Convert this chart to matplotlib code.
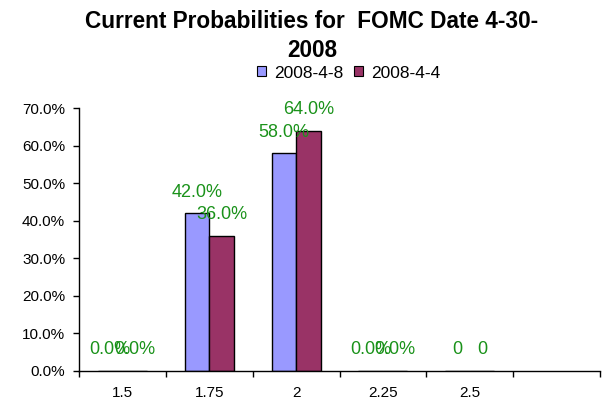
import matplotlib
matplotlib.use("Agg")
import matplotlib.pyplot as plt
import numpy as np
from matplotlib.patches import Patch

plt.rcParams['font.family'] = ['Liberation Sans', 'DejaVu Sans']

categories = ['1.5', '1.75', '2', '2.25', '2.5', '']
series_names = ['2008-4-8', '2008-4-4']
s1_values = [0.0, 42.0, 58.0, 0.0, 0.0]
s2_values = [0.0, 36.0, 64.0, 0.0, 0.0]
s1_labels = ['0.0%', '42.0%', '58.0%', '0.0%', '0']
s2_labels = ['0.0%', '36.0%', '64.0%', '0.0%', '0']
yticks = [0, 10, 20, 30, 40, 50, 60, 70]
title = 'Current Probabilities for  FOMC Date 4-30-\n2008'

W, H = 605, 403
fig = plt.figure(figsize=(W / 100, H / 100), dpi=100)
left, right, bottom, top = 79, 600, 370.7, 108.3
ax = fig.add_axes([left / W, (H - bottom) / H, (right - left) / W, (bottom - top) / H])

colors = ['#9999FF', '#993366']
bw = 0.282
x = np.arange(len(s1_values))
b1 = ax.bar(x - bw / 2, s1_values, bw, color=colors[0], edgecolor='black', linewidth=1.0, zorder=3)
b2 = ax.bar(x + bw / 2, s2_values, bw, color=colors[1], edgecolor='black', linewidth=1.0, zorder=3)

green = '#1a921a'
for bars, labs in ((b1, s1_labels), (b2, s2_labels)):
    for rect, lab in zip(bars, labs):
        ax.annotate(lab, (rect.get_x() + rect.get_width() / 2, rect.get_height()),
                    xytext=(0, 15), textcoords='offset points', ha='center', va='center',
                    color=green, fontsize=13, zorder=5)

ax.set_xlim(-0.5, len(categories) - 0.5)
ax.set_ylim(0, 70)
ax.set_yticks(yticks)
ax.set_yticklabels([f'{v:.1f}%' for v in yticks], fontsize=11)
ax.tick_params(axis='y', direction='out', length=4, width=1, pad=6)

ax.set_xticks(np.arange(len(categories)))
ax.set_xticklabels(categories, fontsize=11)
ax.tick_params(axis='x', which='major', length=0, pad=11)
ax.set_xticks(np.arange(len(categories) + 1) - 0.5, minor=True)
ax.tick_params(axis='x', which='minor', direction='out', length=4, width=1)

for s in ('top', 'right'):
    ax.spines[s].set_visible(False)
for s in ('left', 'bottom'):
    ax.spines[s].set_linewidth(1.0)
    ax.spines[s].set_color('black')
    ax.spines[s].set_zorder(4)

fig.text(312 / W, 1 - 10 / H, title, ha='center', va='top', fontsize=16.3,
         fontweight='bold', linespacing=1.35)

handles = [Patch(facecolor=c, edgecolor='black', linewidth=0.8) for c in colors]
fig.legend(handles, series_names, loc='center', bbox_to_anchor=(349 / W, 1 - 73 / H),
           ncol=2, frameon=False, fontsize=12.5, handlelength=0.5, handleheight=0.5,
           handletextpad=0.5, columnspacing=0.6, borderpad=0, borderaxespad=0)

fig.savefig('out.png', dpi=100)
